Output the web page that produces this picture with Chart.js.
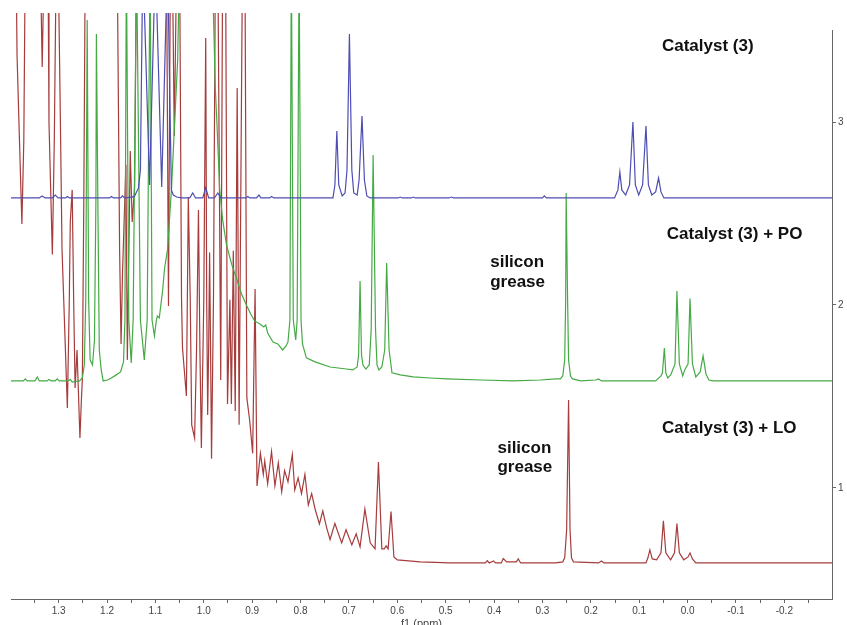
<!DOCTYPE html>
<html>
<head>
<meta charset="utf-8">
<script src="https://cdn.jsdelivr.net/npm/chart.js@4.4.1/dist/chart.umd.min.js"></script>
<style>
  html, body { margin: 0; padding: 0; background: #fff; overflow: hidden; }
  #wrap { width: 847px; height: 625px; }
</style>
</head>
<body>
<div id="wrap"><canvas id="nmr" width="847" height="625"></canvas></div>
<script>
// chemical shift (ppm) / intensity pairs; 3.9 = peak runs off the top
const blueShift = [1.400, 1.340, 1.334, 1.328, 1.313, 1.307, 1.301, 1.286, 1.282, 1.278, 1.195, 1.191, 1.187,
  1.172, 1.168, 1.164, 1.148, 1.143, 1.135, 1.131, 1.126, 1.112, 1.100, 1.087, 1.075, 1.067, 1.063, 1.056, 1.046,
  1.029, 1.023, 1.017, 1.002, 0.996, 0.990, 0.978, 0.971, 0.965, 0.913, 0.909, 0.905, 0.891, 0.886, 0.882,
  0.864, 0.860, 0.855, 0.733, 0.729, 0.725, 0.721, 0.714, 0.708, 0.704, 0.699, 0.694, 0.690, 0.683, 0.679,
  0.673, 0.668, 0.663, 0.656, 0.598, 0.594, 0.590, 0.571, 0.567, 0.563, 0.493, 0.488, 0.484, 0.300, 0.296,
  0.292, 0.151, 0.144, 0.140, 0.136, 0.128, 0.120, 0.113, 0.108, 0.101, 0.093, 0.086, 0.081, 0.074, 0.066,
  0.060, 0.055, 0.049, -0.301];
const blueInt = [2.585, 2.585, 2.596, 2.585, 2.585, 2.601, 2.585, 2.585, 2.593, 2.585, 2.585, 2.593, 2.585,
  2.585, 2.596, 2.585, 2.590, 2.596, 2.640, 2.738, 3.9, 2.656, 3.9, 2.645, 3.9, 2.629, 2.601, 2.590, 2.585,
  2.585, 2.612, 2.585, 2.585, 2.642, 2.585, 2.585, 2.612, 2.585, 2.585, 2.593, 2.585, 2.585, 2.601, 2.585,
  2.585, 2.593, 2.585, 2.585, 2.656, 2.951, 2.656, 2.596, 2.612, 2.738, 3.481, 2.738, 2.612, 2.601, 2.683,
  3.033, 2.683, 2.596, 2.585, 2.585, 2.590, 2.585, 2.585, 2.590, 2.585, 2.585, 2.590, 2.585, 2.585, 2.596,
  2.585, 2.585, 2.629, 2.727, 2.629, 2.601, 2.656, 3.000, 2.656, 2.601, 2.656, 2.978, 2.656, 2.601, 2.618,
  2.694, 2.618, 2.585, 2.585];

const greenShift = [1.400, 1.373, 1.369, 1.365, 1.349, 1.344, 1.340, 1.324, 1.320, 1.315, 1.307, 1.303, 1.299,
  1.280, 1.276, 1.272, 1.257, 1.251, 1.247, 1.244, 1.241, 1.238, 1.235, 1.230, 1.226, 1.223, 1.222, 1.219,
  1.216, 1.212, 1.208, 1.199, 1.191, 1.181, 1.172, 1.166, 1.163, 1.160, 1.155, 1.150, 1.146, 1.139, 1.131,
  1.123, 1.117, 1.111, 1.107, 1.102, 1.098, 1.096, 1.092, 1.085, 1.081, 1.075, 1.071, 1.067, 1.061, 1.054,
  1.050, 0.984, 0.980, 0.976, 0.973, 0.967, 0.961, 0.953, 0.942, 0.932, 0.922, 0.911, 0.903, 0.895, 0.884,
  0.876, 0.872, 0.868, 0.857, 0.847, 0.837, 0.830, 0.826, 0.822, 0.819, 0.815, 0.810, 0.807, 0.803, 0.799,
  0.796, 0.788, 0.770, 0.739, 0.705, 0.692, 0.683, 0.680, 0.677, 0.674, 0.671, 0.665, 0.658, 0.654, 0.650,
  0.645, 0.642, 0.638, 0.632, 0.626, 0.622, 0.617, 0.611, 0.594, 0.567, 0.532, 0.497, 0.428, 0.360, 0.304,
  0.273, 0.263, 0.258, 0.254, 0.252, 0.251, 0.248, 0.246, 0.242, 0.238, 0.221, 0.190, 0.184, 0.178, 0.066,
  0.055, 0.052, 0.048, 0.045, 0.041, 0.035, 0.026, 0.022, 0.017, 0.010, 0.006, -0.001, -0.005, -0.010,
  -0.017, -0.026, -0.032, -0.038, -0.044, -0.052, -0.301];
const greenInt = [1.585, 1.585, 1.596, 1.585, 1.585, 1.607, 1.585, 1.585, 1.593, 1.585, 1.585, 1.596, 1.585,
  1.585, 1.593, 1.579, 1.585, 1.601, 1.672, 2.028, 3.558, 2.028, 1.700, 1.672, 1.809, 2.574, 3.481, 2.574,
  1.754, 1.645, 1.585, 1.590, 1.601, 1.618, 1.634, 1.689, 1.918, 3.9, 1.918, 1.683, 1.918, 3.9, 1.918,
  1.700, 1.918, 3.9, 1.918, 1.831, 1.918, 1.940, 1.929, 2.082, 2.202, 2.301, 2.465, 2.623, 2.957, 3.339,
  3.9, 3.9, 3.585, 3.175, 3.000, 2.629, 2.465, 2.328, 2.219, 2.142, 2.060, 1.995, 1.951, 1.913, 1.896,
  1.880, 1.891, 1.847, 1.798, 1.787, 1.754, 1.776, 1.798, 1.918, 3.9, 1.918, 1.809, 1.918, 3.9, 1.918,
  1.787, 1.711, 1.689, 1.661, 1.650, 1.645, 1.661, 1.727, 2.131, 1.727, 1.672, 1.650, 1.672, 1.864, 2.820,
  1.864, 1.672, 1.645, 1.661, 1.754, 2.230, 1.754, 1.629, 1.618, 1.607, 1.601, 1.596, 1.590, 1.585, 1.590,
  1.596, 1.596, 1.612, 1.700, 2.028, 2.612, 2.028, 1.700, 1.612, 1.596, 1.585, 1.590, 1.596, 1.585, 1.585,
  1.612, 1.629, 1.765, 1.629, 1.601, 1.618, 1.678, 2.077, 1.678, 1.612, 1.645, 1.678, 2.036, 1.678,
  1.607, 1.634, 1.722, 1.623, 1.590, 1.585, 1.585];

const redShift = [1.400, 1.388, 1.386, 1.381, 1.376, 1.372, 1.369, 1.338, 1.334, 1.330, 1.322, 1.320, 1.315,
  1.313, 1.309, 1.305, 1.301, 1.297, 1.293, 1.286, 1.282, 1.278, 1.276, 1.272, 1.269, 1.266, 1.262, 1.256,
  1.253, 1.251, 1.248, 1.245, 1.179, 1.174, 1.171, 1.168, 1.161, 1.158, 1.152, 1.148, 1.143, 1.139, 1.077,
  1.073, 1.069, 1.065, 1.061, 1.056, 1.050, 1.046, 1.044, 1.036, 1.034, 1.032, 1.028, 1.025, 1.019, 1.015,
  1.011, 1.008, 1.005, 1.000, 0.996, 0.994, 0.992, 0.990, 0.988, 0.986, 0.984, 0.980, 0.976, 0.971, 0.965,
  0.961, 0.955, 0.951, 0.946, 0.943, 0.939, 0.935, 0.931, 0.927, 0.920, 0.915, 0.911, 0.905, 0.899, 0.894,
  0.890, 0.883, 0.877, 0.874, 0.868, 0.860, 0.853, 0.846, 0.839, 0.833, 0.826, 0.817, 0.812, 0.805, 0.798,
  0.791, 0.784, 0.777, 0.770, 0.761, 0.754, 0.746, 0.739, 0.729, 0.715, 0.706, 0.694, 0.685, 0.677, 0.667,
  0.656, 0.646, 0.639, 0.632, 0.627, 0.623, 0.619, 0.613, 0.607, 0.600, 0.553, 0.491, 0.418, 0.414, 0.410,
  0.401, 0.397, 0.385, 0.381, 0.374, 0.354, 0.350, 0.345, 0.273, 0.258, 0.254, 0.250, 0.246, 0.243, 0.240,
  0.236, 0.184, 0.178, 0.173, 0.086, 0.082, 0.078, 0.073, 0.064, 0.055, 0.050, 0.045, 0.035, 0.027, 0.022,
  0.017, 0.008, -0.001, -0.005, -0.010, -0.017, -0.301];
const redInt = [3.9, 3.9, 3.366, 2.902, 2.443, 2.902, 3.9, 3.9, 3.301, 3.9, 3.9, 3.000, 2.476,
  2.276, 2.902, 3.9, 3.9, 3.120, 2.301, 1.754, 1.437, 2.028, 2.454, 2.629, 2.028, 1.547, 1.754, 1.273,
  1.481, 1.596, 2.574, 3.9, 3.9, 2.301, 1.787, 2.175, 2.767, 1.700, 2.842, 2.454, 2.642, 3.9, 3.9,
  1.995, 3.9, 3.9, 2.924, 3.9, 3.9, 2.028, 1.765, 1.503, 2.028, 2.590, 2.028, 1.345, 1.273, 1.754,
  2.519, 1.754, 1.219, 2.028, 3.459, 2.028, 1.399, 1.754, 2.287, 1.754, 1.159, 2.028, 3.9, 3.9, 1.590,
  3.9, 3.9, 1.459, 2.028, 1.459, 2.297, 1.421, 3.186, 1.345, 3.9, 3.9, 1.492, 1.366, 1.189, 2.088,
  1.011, 1.189, 1.074, 1.148, 1.022, 1.199, 1.011, 1.137, 0.979, 1.095, 1.033, 1.183, 0.989, 1.055, 0.969,
  1.074, 0.907, 0.969, 0.885, 0.803, 0.874, 0.782, 0.718, 0.806, 0.700, 0.771, 0.689, 0.749, 0.678, 0.885,
  0.700, 0.667, 1.142, 0.667, 0.667, 0.683, 0.667, 0.871, 0.623, 0.607, 0.596, 0.590, 0.590, 0.603, 0.590,
  0.601, 0.590, 0.590, 0.614, 0.596, 0.596, 0.612, 0.590, 0.590, 0.596, 0.618, 0.771, 1.481, 0.771, 0.618,
  0.596, 0.590, 0.601, 0.590, 0.590, 0.618, 0.661, 0.612, 0.607, 0.645, 0.820, 0.645, 0.607, 0.645, 0.806,
  0.645, 0.607, 0.623, 0.645, 0.612, 0.590, 0.590];

// text labels on the plot (left edge ppm, middle y)
const noteText  = ['Catalyst (3)', 'Catalyst (3) + PO', 'Catalyst (3) + LO', 'silicon', 'grease', 'silicon', 'grease'];
const noteShift = [0.053, 0.043, 0.053, 0.408, 0.408, 0.393, 0.393];
const noteInt   = [3.416, 2.388, 1.328, 2.235, 2.126, 1.216, 1.111];

function toPoints(xs, ys) {
  return xs.map((x, i) => ({ x: x, y: ys[i] }));
}

const notesPlugin = {
  id: 'notes',
  afterDatasetsDraw(chart) {
    const ctx = chart.ctx;
    const xs = chart.scales.x, ys = chart.scales.y;
    ctx.save();
    ctx.font = 'bold 17px "Liberation Sans", Arial, sans-serif';
    ctx.fillStyle = '#111';
    ctx.textAlign = 'left';
    ctx.textBaseline = 'middle';
    noteText.forEach((t, i) => {
      ctx.fillText(t, xs.getPixelForValue(noteShift[i]), ys.getPixelForValue(noteInt[i]));
    });
    ctx.restore();
  }
};

const lineStyle = { borderWidth: 1.2, pointRadius: 0, tension: 0, fill: false,
  clip: { left: 0, top: 17, right: 0, bottom: 0 } };

const config = {
  type: 'line',
  data: {
    datasets: [
      Object.assign({ label: 'Catalyst (3)', data: toPoints(blueShift, blueInt), borderColor: '#4d4db3' }, lineStyle),
      Object.assign({ label: 'Catalyst (3) + PO', data: toPoints(greenShift, greenInt), borderColor: '#45aa45' }, lineStyle),
      Object.assign({ label: 'Catalyst (3) + LO', data: toPoints(redShift, redInt), borderColor: '#a63c3c' }, lineStyle),
    ],
  },
  options: {
    responsive: false,
    animation: false,
    layout: { padding: { left: 11, top: 30, right: 0, bottom: 0 } },
    plugins: {
      legend: { display: false },
      tooltip: { enabled: false },
    },
    scales: {
      x: {
        type: 'linear',
        reverse: true,
        min: -0.2985,
        max: 1.3985,
        afterFit: (s) => { s.height = 26; },
        border: { display: true, color: '#666' },
        grid: { drawOnChartArea: false, drawTicks: true, tickLength: 4, color: '#666' },
        ticks: {
          stepSize: 0.05,
          includeBounds: false,
          autoSkip: false,
          maxRotation: 0,
          padding: 2,
          color: '#444',
          font: { family: '"Liberation Sans", Arial, sans-serif', size: 10 },
          callback: (v) => (Math.abs(Math.round(v * 20)) % 2 === 0 ? (Math.round(v * 10) / 10).toFixed(1) : ''),
        },
        title: {
          display: true,
          text: 'f1 (ppm)',
          color: '#444',
          padding: { top: 0, bottom: -6 },
          font: { family: '"Liberation Sans", Arial, sans-serif', size: 11 },
        },
      },
      y: {
        type: 'linear',
        position: 'right',
        min: 0.393,
        max: 3.503,
        afterFit: (s) => { s.width = 15; },
        border: { display: true, color: '#666' },
        grid: { drawOnChartArea: false, drawTicks: true, tickLength: 4, color: '#666' },
        ticks: {
          stepSize: 1,
          includeBounds: false,
          padding: 2,
          color: '#444',
          font: { family: '"Liberation Sans", Arial, sans-serif', size: 10 },
        },
      },
    },
  },
  plugins: [notesPlugin],
};

new Chart(document.getElementById('nmr').getContext('2d'), config);
</script>
</body>
</html>
